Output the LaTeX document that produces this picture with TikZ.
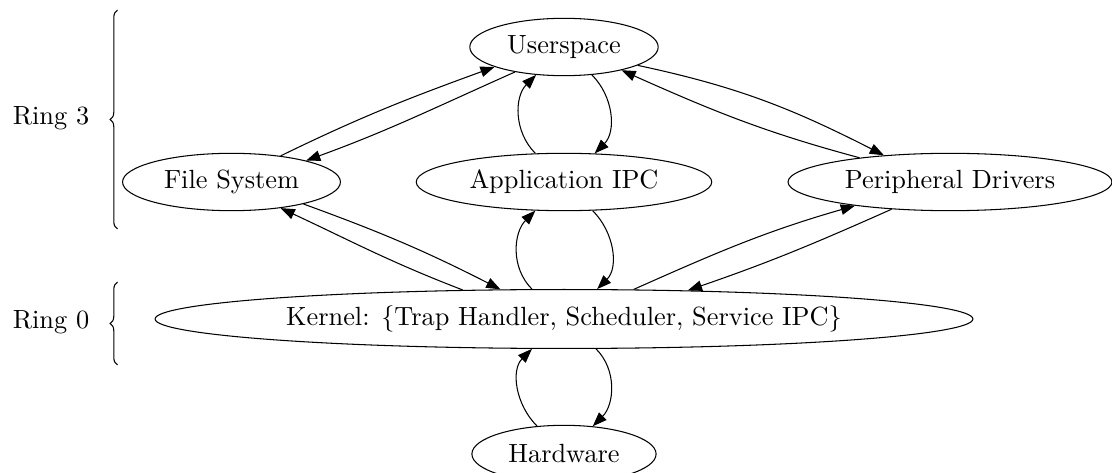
\documentclass[tikz,border=0pt]{standalone}
\usetikzlibrary{arrows.meta,shapes.geometric,decorations.pathreplacing}
\begin{document}
\begin{tikzpicture}[x=0.38pt,y=-0.38pt,
  state/.style={ellipse,draw,inner sep=0pt,minimum height=21.8pt},
  link/.style={-{Triangle[length=5.4pt,width=4pt]}},
  ringbrace/.style={decorate,decoration={brace,amplitude=2.8pt}}]
\useasboundingbox (0,0) rectangle (1112,473);
\clip (0,0) rectangle (1112,473);

% privilege levels
\node (r3) at (51,118) {Ring 3};
\node (r0) at (51,322) {Ring 0};
\draw[ringbrace] (117.5,229) -- (117.5,10);
\draw[ringbrace] (117.5,365) -- (117.5,282);

% components
\node[state,minimum width=71.6pt]  (us) at (564,47)    {Userspace};
\node[state,minimum width=82.8pt]  (fs) at (231.5,182) {File System};
\node[state,minimum width=112.3pt] (ap) at (564,182)   {Application IPC};
\node[state,minimum width=123.1pt] (pd) at (950,182)   {Peripheral Drivers};
\node[state,minimum width=310.8pt,minimum height=22.4pt] (kn) at (564,319)
  {Kernel: \{Trap Handler, Scheduler, Service IPC\}};
\node[state,minimum width=70pt]    (hw) at (564,454)   {Hardware};

% userspace <-> file system
\draw[link] (fs.28) to[out=26,in=-160] (us.196);
\draw[link] (us.207) to[out=-156,in=20] (fs.16);

% userspace <-> application IPC
\draw[link] (us.-45) to[out=-45,in=45] (ap.43);
\draw[link] (ap.135) to[out=135,in=-135] (us.-135);

% userspace <-> peripheral drivers
\draw[link] (us.-14) to[out=-12,in=153] (pd.158);
\draw[link] (pd.165) to[out=165,in=-24] (us.-22);

% kernel <-> file system
\draw[link] (kn.164) to[out=159,in=-25] (fs.-28);
\draw[link] (fs.-17) to[out=-20,in=153] (kn.155);

% kernel <-> application IPC
\draw[link] (kn.137) to[out=135,in=-135] (ap.-135);
\draw[link] (ap.-45) to[out=-45,in=45] (kn.42);

% kernel <-> peripheral drivers
\draw[link] (kn.23) to[out=24,in=-164] (pd.-166);
\draw[link] (pd.-155) to[out=-156,in=19] (kn.13);

% kernel <-> hardware
\draw[link] (kn.-43) to[out=-45,in=45] (hw.44);
\draw[link] (hw.134) to[out=135,in=-135] (kn.-137);
\end{tikzpicture}
\end{document}
